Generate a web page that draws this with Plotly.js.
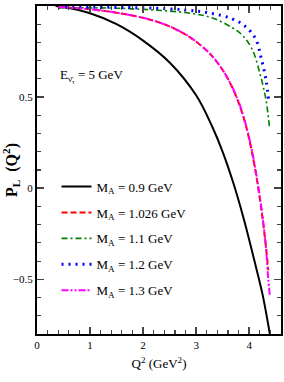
<!DOCTYPE html>
<html><head><meta charset="utf-8">
<script src="https://cdn.plot.ly/plotly-3.0.1.min.js"></script>
<style>html,body{margin:0;padding:0;background:#fff}#chart{width:284px;height:382px}</style>
</head><body><div id="chart"></div>
<script>
// M_A = 0.9 GeV
const q2_09 = [0.35, 0.5, 1.0, 1.5, 2.0, 2.5, 3.0, 3.3, 3.5, 3.7, 3.9, 4.1, 4.25, 4.39];
const p_09  = [1.0, 0.994, 0.96, 0.90, 0.81, 0.69, 0.51, 0.34, 0.20, 0.03, -0.17, -0.40, -0.58, -0.80];
// M_A = 1.026 GeV
const q2_1026 = [0.4, 1.0, 1.5, 2.0, 2.3, 2.6, 2.9, 3.2, 3.4, 3.6, 3.8, 3.95, 4.05, 4.15, 4.25, 4.32, 4.36];
const p_1026  = [0.995, 0.982, 0.963, 0.935, 0.91, 0.875, 0.825, 0.755, 0.69, 0.60, 0.47, 0.33, 0.20, 0.04, -0.16, -0.33, -0.45];
// M_A = 1.1 GeV
const q2_11 = [0.4, 1.5, 2.2, 2.9, 3.3, 3.65, 3.87, 4.06, 4.22, 4.32, 4.38];
const p_11  = [0.99, 0.988, 0.978, 0.96, 0.935, 0.886, 0.84, 0.76, 0.61, 0.48, 0.34];
// M_A = 1.2 GeV
const q2_12 = [0.4, 2.0, 2.8, 3.28, 3.68, 3.92, 4.12, 4.23, 4.32, 4.37];
const p_12  = [0.993, 0.99, 0.978, 0.96, 0.93, 0.89, 0.82, 0.71, 0.59, 0.47];
// M_A = 1.3 GeV
const q2_13 = [0.4, 1.0, 1.5, 2.0, 2.3, 2.6, 2.9, 3.2, 3.4, 3.6, 3.8, 3.95, 4.05, 4.15, 4.25, 4.32, 4.36, 4.39];
const p_13  = [0.995, 0.982, 0.963, 0.935, 0.91, 0.875, 0.826, 0.756, 0.69, 0.60, 0.475, 0.335, 0.21, 0.05, -0.15, -0.34, -0.50, -0.59];

const names = ['M<sub>A</sub> = 0.9 GeV','M<sub>A</sub> = 1.026 GeV','M<sub>A</sub> = 1.1 GeV','M<sub>A</sub> = 1.2 GeV','M<sub>A</sub> = 1.3 GeV'];
const xs = [q2_09, q2_1026, q2_11, q2_12, q2_13];
const ys = [p_09, p_1026, p_11, p_12, p_13];
const styles = [
  {color:'#000000', width:2, dash:'solid'},
  {color:'#ff0000', width:2, dash:'6px,3px'},
  {color:'#008000', width:1.6, dash:'6px,3px,2px,3px'},
  {color:'#0000ff', width:3, dash:'2px,5px'},
  {color:'#ff00ff', width:2, dash:'7px,2px,2px,2px,2px,2px'}
];
const traces = names.map((n,i)=>({
  x: xs[i], y: ys[i], name: n, type:'scatter', mode:'lines',
  legendgroup:'g'+i,
  line: Object.assign({shape:'spline', smoothing:1}, styles[i])
}));

const F = 'Liberation Serif, Times New Roman, serif';
const layout = {
  width:284, height:382,
  margin:{l:37, r:3, t:6, b:48},
  paper_bgcolor:'#fff', plot_bgcolor:'#fff',
  font:{family:F, color:'#000', size:11},
  showlegend:true,
  legend:{x:0.08, y:0.495, xanchor:'left', yanchor:'top', bgcolor:'rgba(0,0,0,0)',
          font:{family:F, size:13}, tracegroupgap:6},
  xaxis:{range:[0,4.6], dtick:1, tick0:0, ticks:'inside', ticklen:7, tickwidth:1.5,
         showline:true, linewidth:2, linecolor:'#000', mirror:'allticks', showgrid:false, zeroline:false,
         minor:{dtick:0.2, ticks:'inside', ticklen:4, tickwidth:1.2, showgrid:false},
         tickfont:{family:F, size:11},
         title:{text:'Q<sup>2</sup> (GeV<sup>2</sup>)', font:{family:F, size:13}, standoff:9}},
  yaxis:{range:[-0.8,1], dtick:0.5, tick0:0, ticks:'inside', ticklen:7, tickwidth:1.5,
         showline:true, linewidth:2, linecolor:'#000', mirror:'allticks', showgrid:false, zeroline:false,
         minor:{dtick:0.1, ticks:'inside', ticklen:4, tickwidth:1.2, showgrid:false},
         tickfont:{family:F, size:11},
         title:{text:'<b>P<sub>L</sub>  (Q<sup>2</sup>)</b>', font:{family:F, size:16}, standoff:2}},
  annotations:[{x:0.40, y:0.615, xref:'x', yref:'y', xanchor:'left', yanchor:'middle', showarrow:false,
    text:'E<sub>ν̄<sub>τ</sub></sub> = 5 GeV', font:{family:F, size:13}}]
};
Plotly.newPlot('chart', traces, layout, {displayModeBar:false, staticPlot:true});
</script></body></html>
